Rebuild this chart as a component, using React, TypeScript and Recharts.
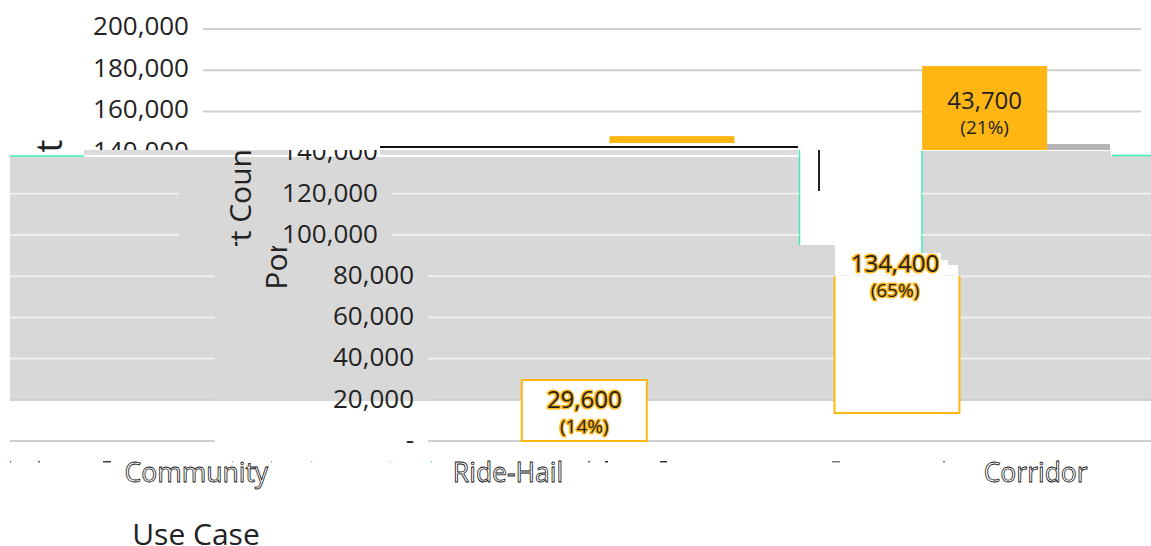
import React from "react";
import {
  ComposedChart,
  Bar,
  XAxis,
  YAxis,
  CartesianGrid,
  LabelList,
  Label,
} from "recharts";

// ---- data ----
const categories = ["Community", "Ride-Hail", "Corridor"];
const portCounts = [29600, 134400, 43700];
const portBases = [0, 13600, 138300];
const portShares = ["(14%)", "(65%)", "(21%)"];
const yTicks = [0, 20000, 40000, 60000, 80000, 100000, 120000, 140000, 160000, 180000, 200000];

const chartData = categories.map((name, i) => ({
  name,
  portCount: portCounts[i],
  range: [portBases[i], portBases[i] + portCounts[i]],
}));

// ---- layout and look ----
const W = 1151;
const H = 546;
const FONT = "'Open Sans', sans-serif";
const GOLD = "#FFB612";
const INK = "#222222";
const GRAY = "#D8D8D8";
const MINT = "#3FEBBD";

// The picture's rows are displaced sideways, and wrap around its width.
const BANDS = [
  { id: "band-a", y0: 0, y1: 150, dx: 0 },
  { id: "band-b", y0: 150, y1: 246, dx: 189 },
  { id: "band-c", y0: 246, y1: 460, dx: 225 },
];
const TITLE_BANDS = BANDS.slice(1);
const bandAt = (y: number) => BANDS.find((b) => y >= b.y0 && y < b.y1) ?? BANDS[2];
const WRAP_LEFT = 10;

const BAR_LOOK = [
  { solidTo: 0, outlineFrom: 0, dx: 225, labelDx: 225, halo: true },
  { solidTo: 143, outlineFrom: 276, dx: 225, labelDx: 223, halo: true },
  { solidTo: 150, outlineFrom: Infinity, dx: 0, labelDx: 0, halo: false },
];

const X_TICK_SHIFT: Record<string, number> = { Community: -163, "Ride-Hail": -164, Corridor: 51 };

const GRAY_OUTLINE =
  "10,157 800,157 800,245 835,245 835,276 958,276 958,265 948,265 948,260 941,260 941,253 922,253 922,151 1111,151 1111,156 1151,156 1151,401 10,401";

const SPECKS = [
  [10, 1, "#3344ff"], [38, 2, "#666"], [103, 8, "#444"], [232, 1, "#3fe8d8"], [271, 1, "#d070f0"],
  [311, 1, "#f0c040"], [390, 1, "#f0c040"], [431, 1, "#3fe8d8"], [588, 2, "#666"], [605, 3, "#333"],
  [660, 7, "#334"], [832, 8, "#777"], [943, 2, "#777"],
] as const;

const Backdrop = () => (
  <svg width={W} height={H} style={{ position: "absolute", left: 0, top: 0 }}>
    <polygon points={GRAY_OUTLINE} fill={GRAY} />
    <rect x={84} y={150} width={714} height={5} fill="#DCDCDC" />
    <rect x={1031} y={144} width={79} height={6} fill="#B5B5B5" />
    <rect x={288} y={143} width={92} height={14} fill="#fff" />
    <line x1={380} x2={798} y1={147} y2={147} stroke="#111" strokeWidth={2} />
    <line x1={819} x2={819} y1={150} y2={191} stroke="#222" strokeWidth={2} />
    <line x1={10} x2={84} y1={156} y2={156} stroke={MINT} strokeWidth={1.5} />
    <line x1={1112} x2={1151} y1={155.5} y2={155.5} stroke={MINT} strokeWidth={1.5} />
    <line x1={799.5} x2={799.5} y1={150} y2={245} stroke={MINT} strokeWidth={1.5} />
    <line x1={922} x2={922} y1={151} y2={253} stroke={MINT} strokeWidth={1.5} />
    {SPECKS.map(([x, w, c], i) => (
      <rect key={i} x={x} y={461} width={w} height={1.5} fill={c} />
    ))}
  </svg>
);

// Draws the same content once per row band, clipped to the band and moved by its offset.
const Banded = ({ bands = BANDS, children }: { bands?: typeof BANDS; children: React.ReactNode }) => (
  <>
    {bands.map((b) => (
      <g key={b.id} clipPath={`url(#${b.id})`}>
        <g transform={`translate(${b.dx},0)`}>{children}</g>
      </g>
    ))}
  </>
);

const formatTick = (v: number) => (v === 0 ? "-" : v.toLocaleString("en-US"));

const YTick = (props: any) => {
  const { x, y, payload } = props;
  const lift = y < 140 ? 3 : 1.5;
  return (
    <Banded>
      <text x={x} y={y - lift} dy="0.36em" textAnchor="end" fontFamily={FONT} fontSize={26} fill={INK}>
        {formatTick(payload.value)}
      </text>
    </Banded>
  );
};

const XTick = (props: any) => {
  const { x, y, payload } = props;
  return (
    <text
      x={x + (X_TICK_SHIFT[payload.value] ?? 0)}
      y={y}
      dy="0.36em"
      textAnchor="middle"
      fontFamily={FONT}
      fontSize={26.5}
      fill="#fff"
      stroke="#111"
      strokeWidth={0.8}
    >
      {payload.value}
    </text>
  );
};

const GridLine = (props: any) => {
  const { x1, x2, y1: y } = props;
  if (y > 146 && y < 158) return <g key={y} />;
  const { dx } = bandAt(y);
  const inGray = y > 157 && y < 395;
  const stroke = inGray ? "#EFEFEF" : "#CFCFCF";
  const segs: [number, number][] = [];
  const left = x1 + dx;
  const right = x2 + dx;
  if (right > W) {
    segs.push([WRAP_LEFT, right - W]);
    if (dx === 189) {
      segs.push([left, 799], [922, W]);
    } else {
      segs.push([left, W]);
    }
  } else {
    segs.push([left, right]);
  }
  return (
    <g key={y}>
      {segs.map(([a, b], i) => (
        <line key={i} x1={a} x2={b} y1={y} y2={y} stroke={stroke} strokeWidth={2} />
      ))}
    </g>
  );
};

const BarShape = (props: any) => {
  const { x, y, width, height, index } = props;
  const look = BAR_LOOK[index];
  const bottom = y + height;
  const parts: React.ReactNode[] = [];
  if (look.solidTo > y) {
    parts.push(
      <rect key="solid" x={x} y={y} width={width} height={look.solidTo - y} fill={GOLD} />
    );
  }
  if (look.outlineFrom !== Infinity) {
    const top = Math.max(y, look.outlineFrom);
    const left = x + look.dx;
    const right = left + width;
    const closed = top === y;
    parts.push(
      <path
        key="outline"
        d={`M${left},${top} L${left},${bottom} L${right},${bottom} L${right},${top}${closed ? " Z" : ""}`}
        fill="#fff"
        stroke={GOLD}
        strokeWidth={2}
      />
    );
  }
  return <g>{parts}</g>;
};

const BarLabel = (props: any) => {
  const { x, y, width, height, value, index } = props;
  const look = BAR_LOOK[index];
  const cx = x + width / 2 + look.labelDx;
  const cy = y + height / 2;
  const halo = look.halo
    ? { stroke: GOLD, strokeWidth: 3, paintOrder: "stroke" as const, strokeLinejoin: "round" as const }
    : {};
  return (
    <g fontFamily={FONT} textAnchor="middle" fill={INK}>
      <text x={cx} y={cy - 11} dy="0.36em" fontSize={24} {...halo}>
        {Number(value).toLocaleString("en-US")}
      </text>
      <text x={cx} y={cy + 16} dy="0.36em" fontSize={19} {...halo}>
        {portShares[index]}
      </text>
    </g>
  );
};

const YTitle = () => (
  <g>
    <Banded bands={TITLE_BANDS}>
      <text
        transform="rotate(-90 62 214)"
        x={62}
        y={214}
        textAnchor="middle"
        fontFamily={FONT}
        fontSize={30}
        fill={INK}
      >
        Port Count
      </text>
    </Banded>
    <text
      transform="rotate(-90 62 146)"
      x={62}
      y={146}
      textAnchor="middle"
      fontFamily={FONT}
      fontSize={36}
      fill={INK}
    >
      t
    </text>
  </g>
);

const XTitle = (props: any) => {
  const { viewBox } = props;
  return (
    <text
      x={viewBox.x + viewBox.width / 2 - 476}
      y={viewBox.y + 104}
      textAnchor="middle"
      fontFamily={FONT}
      fontSize={30}
      fill={INK}
    >
      Use Case
    </text>
  );
};

export default function App() {
  return (
    <div style={{ position: "absolute", left: 0, top: 0, width: W, height: H, background: "#fff" }}>
      <Backdrop />
      <div style={{ position: "absolute", left: 0, top: 0 }}>
        <ComposedChart
          width={W}
          height={H}
          data={chartData}
          margin={{ top: 29, right: 10, bottom: 5, left: 0 }}
          barCategoryGap="30%"
        >
          <defs>
            {BANDS.map((b) => (
              <clipPath key={b.id} id={b.id} clipPathUnits="userSpaceOnUse">
                <rect x={0} y={b.y0} width={W} height={b.y1 - b.y0} />
              </clipPath>
            ))}
          </defs>
          <CartesianGrid vertical={false} horizontal={GridLine as any} />
          <XAxis
            dataKey="name"
            axisLine={false}
            tickLine={false}
            height={100}
            tickMargin={25}
            tick={XTick}
            interval={0}
          >
            <Label content={XTitle} />
          </XAxis>
          <YAxis
            type="number"
            domain={[0, 200000]}
            ticks={yTicks}
            width={203}
            axisLine={false}
            tickLine={false}
            tickMargin={8}
            tick={YTick}
            interval={0}
          >
            <Label content={YTitle} />
          </YAxis>
          <Bar dataKey="range" shape={BarShape} isAnimationActive={false}>
            <LabelList dataKey="portCount" content={BarLabel} />
          </Bar>
        </ComposedChart>
      </div>
    </div>
  );
}
